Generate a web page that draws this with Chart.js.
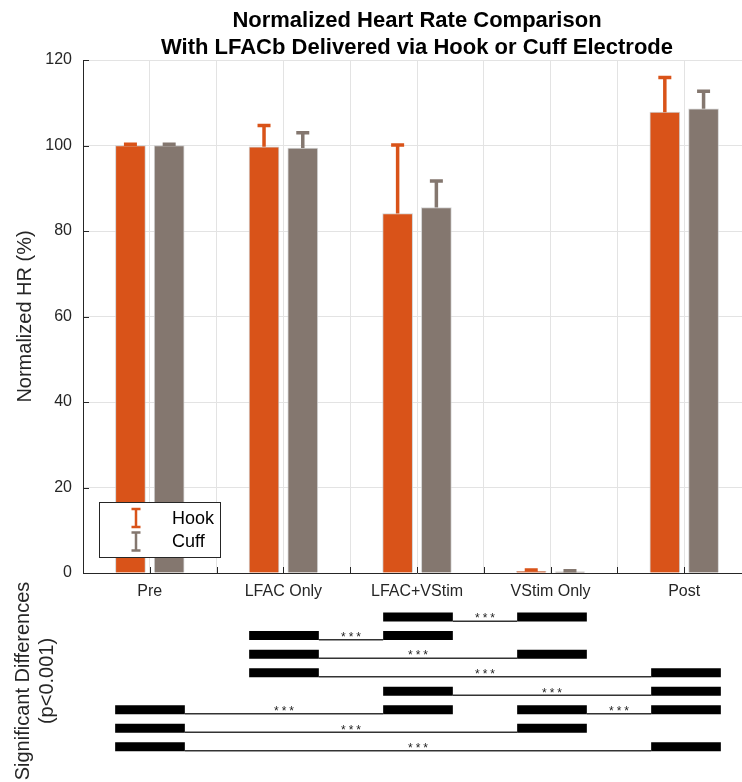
<!DOCTYPE html>
<html>
<head>
<meta charset="utf-8">
<script src="https://cdn.jsdelivr.net/npm/chart.js@4.4.1/dist/chart.umd.min.js"></script>
<style>
  html, body { margin: 0; padding: 0; background: #fff; overflow: hidden; }
  #wrap { position: relative; width: 742px; height: 782px; overflow: hidden; background: #fff; }
  #hrChart { position: absolute; left: 0; top: 0; }
  #sigChart { position: absolute; left: 0; top: 580px; }
</style>
</head>
<body>
<div id="wrap">
  <canvas id="hrChart" width="760" height="600"></canvas>
  <canvas id="sigChart" width="760" height="202"></canvas>
</div>
<script>
const categories = ["Pre", "LFAC Only", "LFAC+VStim", "VStim Only", "Post"];
const hookValues = [100, 99.7, 84.1, 0.4, 107.8];
const hookErrors = [0.3, 5.0, 16.0, 0.3, 8.1];
const cuffValues = [100, 99.4, 85.5, 0.3, 108.6];
const cuffErrors = [0.3, 3.6, 6.2, 0.2, 4.1];
const titleLines = ["Normalized Heart Rate Comparison", "With LFACb Delivered via Hook or Cuff Electrode"];

// significant pairs (1-based category index) and the row they sit on
const sigFrom = [3, 2, 2, 2, 3, 1, 4, 1, 1];
const sigTo = [4, 3, 4, 5, 5, 3, 5, 4, 5];
const sigRow = [1, 2, 3, 4, 5, 6, 6, 7, 8];
const sigLabel = "***";

const hookColor = "#D95319";
const cuffColor = "#84776F";
const axisColor = "#262626";
const gridColor = "#e3e3e3";
const barShift = 0.145;
const segHalf = 0.26;

Chart.defaults.font.family = "'Liberation Sans', Arial, sans-serif";
Chart.defaults.color = axisColor;

function hideAt(value, color) {
  return (ctx) => (ctx.tick && ctx.tick.value === value ? "rgba(0,0,0,0)" : color);
}

const titlePlugin = {
  id: "twoLineTitle",
  afterDraw(chart) {
    const { ctx, chartArea } = chart;
    const cx = (chartArea.left + chartArea.right) / 2;
    ctx.save();
    ctx.fillStyle = "#000";
    ctx.font = "bold 22px 'Liberation Sans', Arial, sans-serif";
    ctx.textAlign = "center";
    ctx.textBaseline = "middle";
    titleLines.forEach((line, i) => ctx.fillText(line, cx, 21 + i * 27));
    ctx.restore();
  },
};

const inwardTicks = {
  id: "inwardTicks",
  beforeDatasetsDraw(chart) {
    const { ctx, chartArea, scales } = chart;
    ctx.save();
    ctx.strokeStyle = axisColor;
    ctx.lineWidth = 1;
    ctx.beginPath();
    scales.x.ticks.forEach((t) => {
      const px = Math.round(scales.x.getPixelForValue(t.value)) + 0.5;
      ctx.moveTo(px, chartArea.bottom);
      ctx.lineTo(px, chartArea.bottom - 6);
    });
    scales.y.ticks.forEach((t) => {
      const py = Math.round(scales.y.getPixelForValue(t.value)) + 0.5;
      ctx.moveTo(chartArea.left, py);
      ctx.lineTo(chartArea.left + 6, py);
    });
    ctx.stroke();
    ctx.restore();
  },
};

const errorBars = {
  id: "errorBars",
  afterDatasetsDraw(chart) {
    const { ctx, scales } = chart;
    chart.data.datasets.forEach((ds, i) => {
      const meta = chart.getDatasetMeta(i);
      meta.data.forEach((bar, j) => {
        const top = scales.y.getPixelForValue(ds.data[j].y + ds.errors[j]);
        ctx.save();
        ctx.strokeStyle = ds.backgroundColor;
        ctx.lineWidth = 3.5;
        ctx.beginPath();
        ctx.moveTo(bar.x, bar.y);
        ctx.lineTo(bar.x, top);
        ctx.moveTo(bar.x - 6.5, top);
        ctx.lineTo(bar.x + 6.5, top);
        ctx.stroke();
        ctx.restore();
      });
    });
  },
};

const boxLegend = {
  id: "boxLegend",
  afterDraw(chart) {
    const { ctx, chartArea } = chart;
    const left = chartArea.left + 16;
    const top = chartArea.bottom - 71;
    const w = 121;
    const h = 55;
    ctx.save();
    ctx.fillStyle = "#fff";
    ctx.fillRect(left, top, w, h);
    ctx.strokeStyle = axisColor;
    ctx.lineWidth = 1;
    ctx.strokeRect(left + 0.5, top + 0.5, w, h);
    chart.data.datasets.forEach((ds, i) => {
      const cy = top + 16 + i * 23.5;
      const ix = left + 37;
      ctx.strokeStyle = ds.backgroundColor;
      ctx.lineWidth = 2.5;
      ctx.beginPath();
      ctx.moveTo(ix, cy - 9);
      ctx.lineTo(ix, cy + 9);
      ctx.moveTo(ix - 4.5, cy - 9);
      ctx.lineTo(ix + 4.5, cy - 9);
      ctx.moveTo(ix - 4.5, cy + 9);
      ctx.lineTo(ix + 4.5, cy + 9);
      ctx.stroke();
      ctx.fillStyle = "#000";
      ctx.font = "18px 'Liberation Sans', Arial, sans-serif";
      ctx.textAlign = "left";
      ctx.textBaseline = "middle";
      ctx.fillText(ds.label, left + 73, cy + 1);
    });
    ctx.restore();
  },
};

new Chart(document.getElementById("hrChart"), {
  type: "bar",
  data: {
    datasets: [
      {
        label: "Hook",
        data: categories.map((c, i) => ({ x: i + 1 - barShift, y: hookValues[i] })),
        errors: hookErrors,
        backgroundColor: hookColor,
        borderColor: "rgba(200,200,200,0.8)",
        borderWidth: 1,
        barThickness: 30,
        grouped: false,
      },
      {
        label: "Cuff",
        data: categories.map((c, i) => ({ x: i + 1 + barShift, y: cuffValues[i] })),
        errors: cuffErrors,
        backgroundColor: cuffColor,
        borderColor: "rgba(200,200,200,0.8)",
        borderWidth: 1,
        barThickness: 30,
        grouped: false,
      },
    ],
  },
  options: {
    responsive: false,
    animation: false,
    layout: { padding: { top: 60, right: 7, left: 0, bottom: 0 } },
    plugins: { legend: { display: false }, tooltip: { enabled: false } },
    scales: {
      x: {
        type: "linear",
        min: 0.5,
        max: 5.5,
        offset: false,
        afterFit: (s) => { s.height = 27; },
        ticks: {
          stepSize: 0.5,
          autoSkip: false,
          maxRotation: 0,
          padding: 9,
          color: axisColor,
          font: { size: 16 },
          callback: (v) => (Number.isInteger(v) ? categories[v - 1] : ""),
        },
        grid: { offset: false, drawTicks: false, color: hideAt(0.5, gridColor) },
        border: { color: axisColor },
      },
      y: {
        min: 0,
        max: 120,
        afterFit: (s) => { s.width = 83; },
        ticks: { stepSize: 20, padding: 11, color: axisColor, font: { size: 16 } },
        grid: { drawTicks: false, color: hideAt(0, gridColor) },
        border: { color: axisColor },
        title: {
          display: true,
          text: "Normalized HR (%)",
          color: axisColor,
          font: { size: 20 },
          padding: { top: 13, bottom: 0 },
        },
      },
    },
  },
  plugins: [titlePlugin, inwardTicks, errorBars, boxLegend],
});

// significance panel: thick blocks under each group, thin link between them
const blockPoints = [];
const linkPoints = [];
sigFrom.forEach((a, i) => {
  const b = sigTo[i];
  const r = sigRow[i];
  [a, b].forEach((c) => {
    blockPoints.push({ x: c - segHalf, y: r }, { x: c + segHalf, y: r }, { x: c, y: null });
  });
  linkPoints.push({ x: a + segHalf, y: r + 0.22 }, { x: b - segHalf, y: r + 0.22 }, { x: b, y: null });
});

const starLabels = {
  id: "starLabels",
  afterDatasetsDraw(chart) {
    const { ctx, scales } = chart;
    ctx.save();
    ctx.fillStyle = "#222";
    ctx.font = "12px 'Liberation Sans', Arial, sans-serif";
    ctx.letterSpacing = "3px";
    ctx.textAlign = "center";
    ctx.textBaseline = "middle";
    sigFrom.forEach((a, i) => {
      const mid = (a + sigTo[i]) / 2;
      ctx.fillText(sigLabel, scales.x.getPixelForValue(mid) + 1.5, scales.y.getPixelForValue(sigRow[i]) + 2);
    });
    ctx.restore();
  },
};

new Chart(document.getElementById("sigChart"), {
  type: "line",
  data: {
    datasets: [
      {
        label: "groups",
        data: blockPoints,
        borderColor: "#000",
        borderWidth: 9,
        borderCapStyle: "butt",
        pointRadius: 0,
        spanGaps: false,
      },
      {
        label: "links",
        data: linkPoints,
        borderColor: "#333",
        borderWidth: 1.5,
        pointRadius: 0,
        spanGaps: false,
      },
    ],
  },
  options: {
    responsive: false,
    animation: false,
    layout: { padding: { top: 0, right: 7, left: 0, bottom: 0 } },
    plugins: { legend: { display: false }, tooltip: { enabled: false } },
    scales: {
      x: { type: "linear", min: 0.5, max: 5.5, display: false },
      y: {
        type: "linear",
        reverse: true,
        min: -1,
        max: 9.9,
        afterFit: (s) => { s.width = 83; },
        ticks: { display: false },
        grid: { display: false },
        border: { display: false },
        title: {
          display: true,
          text: ["Significant Differences", "(p<0.001)"],
          color: axisColor,
          font: { size: 20 },
          padding: { top: 11, bottom: 0 },
        },
      },
    },
  },
  plugins: [starLabels],
});
</script>
</body>
</html>
